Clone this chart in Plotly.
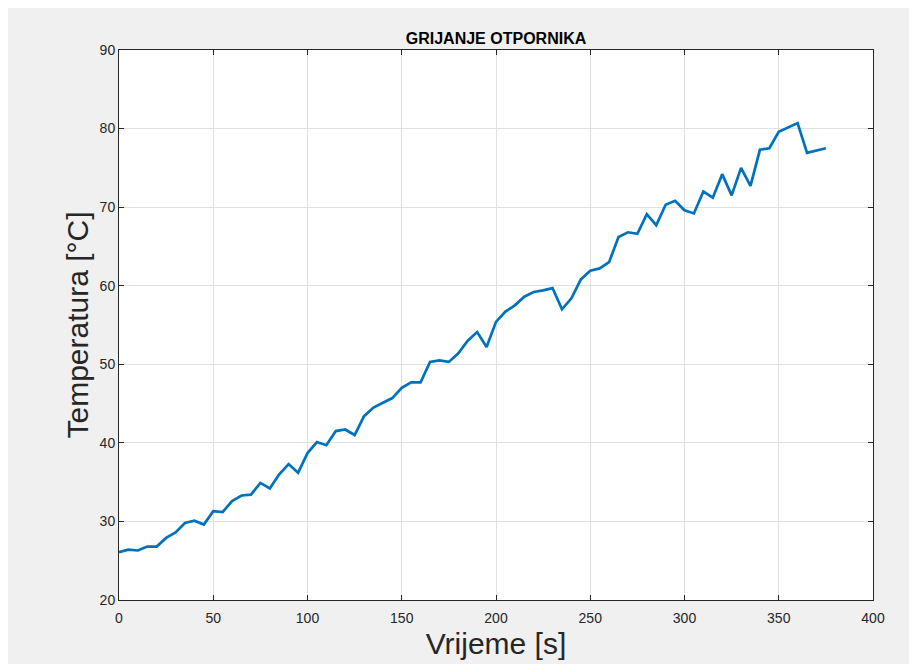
import plotly.graph_objects as go

time_s = [0, 5, 10, 15, 20, 25, 30, 35, 40, 45, 50, 55, 60, 65, 70, 75, 80, 85, 90, 95,
          100, 105, 110, 115, 120, 125, 130, 135, 140, 145, 150, 155, 160, 165, 170, 175, 180, 185, 190, 195,
          200, 205, 210, 215, 220, 225, 230, 235, 240, 245, 250, 255, 260, 265, 270, 275, 280, 285, 290, 295,
          300, 305, 310, 315, 320, 325, 330, 335, 340, 345, 350, 355, 360, 365, 370, 375]
temperature_c = [26.1, 26.4, 26.3, 26.8, 26.8, 27.9, 28.6, 29.8, 30.1, 29.6,
                 31.3, 31.2, 32.6, 33.3, 33.4, 34.9, 34.2, 36.0, 37.3, 36.2,
                 38.7, 40.1, 39.7, 41.5, 41.7, 41.0, 43.4, 44.5, 45.1, 45.7,
                 47.0, 47.7, 47.7, 50.3, 50.5, 50.3, 51.4, 53.0, 54.1, 52.2,
                 55.4, 56.7, 57.5, 58.6, 59.2, 59.4, 59.7, 57.0, 58.4, 60.8,
                 61.9, 62.2, 63.0, 66.2, 66.8, 66.6, 69.1, 67.7, 70.3, 70.8,
                 69.6, 69.2, 72.0, 71.2, 74.2, 71.5, 75.0, 72.7, 77.3, 77.5,
                 79.6, 80.2, 80.7, 76.9, 77.2, 77.5]

x_ticks = [0, 50, 100, 150, 200, 250, 300, 350, 400]
y_ticks = [20, 30, 40, 50, 60, 70, 80, 90]

axis_color = "#262626"
grid_color = "#e1e1e1"
font_family = "Liberation Sans, Arial, sans-serif"

fig = go.Figure()
fig.add_trace(go.Scatter(
    x=time_s, y=temperature_c, mode="lines",
    line=dict(color="#0072BD", width=2.7),
    showlegend=False,
))

axis_common = dict(
    showline=True, linecolor=axis_color, linewidth=1, mirror="ticks",
    ticks="inside", ticklen=5, tickcolor=axis_color, tickwidth=1,
    showgrid=True, gridcolor=grid_color, gridwidth=1,
    zeroline=False,
    tickfont=dict(family=font_family, size=14, color=axis_color),
)

fig.update_layout(
    width=917, height=664,
    margin=dict(l=111, r=52, t=42, b=72),
    paper_bgcolor="#f0f0f0",
    plot_bgcolor="white",
    font=dict(family=font_family, color=axis_color),
    title=dict(text="<b>GRIJANJE OTPORNIKA</b>", x=0.5, xref="paper", xanchor="center",
               y=1 - 30 / 664, yref="container", yanchor="middle",
               font=dict(family=font_family, size=16, color="black")),
    xaxis=dict(range=[0, 400], tickvals=x_ticks, ticktext=[str(v) for v in x_ticks],
               ticklabelstandoff=5,
               title=dict(text="Vrijeme [s]", standoff=8,
                          font=dict(family=font_family, size=30, color=axis_color)),
               **axis_common),
    yaxis=dict(range=[20, 90], tickvals=y_ticks, ticktext=[str(v) for v in y_ticks],
               title=dict(text="Temperatura [°C]", standoff=2,
                          font=dict(family=font_family, size=30, color=axis_color)),
               **axis_common),
)

fig.write_html("out.html")
